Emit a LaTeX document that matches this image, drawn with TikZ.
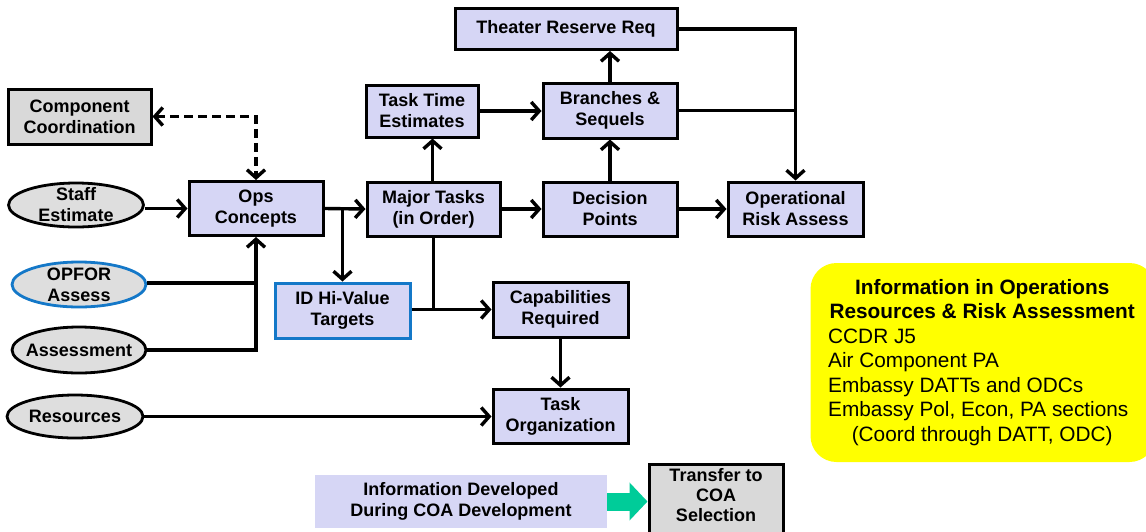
\documentclass[tikz,border=0pt]{standalone}
\usepackage{fontspec}
\setmainfont{Liberation Sans}
\usetikzlibrary{arrows.meta,shapes.geometric}

\definecolor{lav}{RGB}{214,214,245}
\definecolor{boxgray}{RGB}{217,217,217}
\definecolor{ovalgray}{RGB}{222,222,222}
\definecolor{edgeblue}{RGB}{20,120,200}
\definecolor{note}{RGB}{255,255,0}
\definecolor{flowgreen}{RGB}{0,204,153}

\tikzset{
  stepbox/.style={draw=black, line width=3pt, fill=lav, align=center,
    font=\fontsize{18}{21}\selectfont\bfseries, inner sep=2pt},
  graybox/.style={stepbox, fill=boxgray},
  oval/.style={ellipse, draw=black, line width=2.8pt, fill=ovalgray, inner sep=0pt},
  ovaltext/.style={align=center, font=\fontsize{18}{21}\selectfont\bfseries, inner sep=0pt},
  flow/.style={line width=3.4pt, -{Straight Barb[length=8pt,width=18pt]}},
  plain/.style={line width=3.4pt},
}

\begin{document}
\begin{tikzpicture}[x=1pt,y=-1pt]
\useasboundingbox (0,0) rectangle (1146,531);

% information note on the right
\node[draw=none, fill=note, rounded corners=26pt, minimum width=345pt, minimum height=199pt] (notebox) at (983,362.5) {};
\node[anchor=north west, inner sep=0pt, font=\fontsize{20.8}{24.5}\selectfont] (notetext) at (828,279) {%
  \begin{minipage}{308pt}\centering\bfseries
  Information in Operations\\
  Resources \& Risk Assessment\par
  \raggedright\mdseries
  CCDR J5\\
  Air Component PA\\
  Embassy DATTs and ODCs\\
  Embassy Pol, Econ, PA sections\par
  \centering (Coord through DATT, ODC)\par
  \end{minipage}};

% process boxes
\node[stepbox, minimum width=222pt, minimum height=41pt] (thr) at (566,29) {Theater Reserve Req};
\node[graybox, minimum width=143pt, minimum height=55pt] (cc) at (79.5,116.5) {Component\\Coordination};
\node[stepbox, minimum width=112pt, minimum height=52pt] (tte) at (422,111) {Task Time\\Estimates};
\node[stepbox, minimum width=134pt, minimum height=55pt] (bs) at (610,110.5) {Branches \&\\Sequels};
\node[stepbox, minimum width=134pt, minimum height=54pt] (oc) at (256,208.5) {Ops\\Concepts};
\node[stepbox, minimum width=133pt, minimum height=54pt] (mt) at (433.5,209) {Major Tasks\\(in Order)};
\node[stepbox, minimum width=134pt, minimum height=54pt] (dp) at (610,209) {Decision\\Points};
\node[stepbox, minimum width=135pt, minimum height=54pt] (ora) at (795.5,209) {Operational\\Risk Assess};
\node[stepbox, draw=edgeblue, minimum width=135pt, minimum height=55pt] (idh) at (342.5,310.5) {ID Hi-Value\\Targets};
\node[stepbox, minimum width=135pt, minimum height=55pt] (cap) at (560.5,309.5) {Capabilities\\Required};
\node[stepbox, minimum width=135pt, minimum height=54pt] (tor) at (560.5,416) {Task\\Organization};

% inputs
\node[oval, minimum width=135pt, minimum height=44pt, label={[ovaltext]center:Staff\\Estimate}] (se) at (76,205) {};
\node[oval, draw=edgeblue, minimum width=134pt, minimum height=45pt, label={[ovaltext]center:OPFOR\\Assess}] (opf) at (79,284.5) {};
\node[oval, minimum width=134pt, minimum height=46pt, label={[ovaltext]center:Assessment}] (asm) at (79,350) {};
\node[oval, minimum width=136pt, minimum height=43pt, label={[ovaltext]center:Resources}] (res) at (75,416.5) {};

% legend
\node[fill=lav, draw=none, minimum width=292pt, minimum height=53pt, align=center,
  font=\fontsize{18}{21}\selectfont\bfseries] (idev) at (461,501.5) {Information Developed\\During COA Development};
\node[graybox, minimum width=134pt, minimum height=80pt, anchor=north] (tcoa) at (716,463) {};
\node[font=\fontsize{18}{20}\selectfont\bfseries, align=center, inner sep=0pt, anchor=north] (tcoatext) at (716,468) {Transfer to\\COA\\Selection};
\draw[line width=18pt, -{Triangle[length=18pt,width=37pt]}, flowgreen] (idev.east) -- (tcoa.west |- idev.east);

% connectors
\draw[flow] (se.east |- oc.west) -- (oc.west);
\draw[line width=3.4pt, dash pattern=on 9pt off 5pt,
  {Straight Barb[length=8pt,width=18pt]}-{Straight Barb[length=8pt,width=18pt]}]
  (cc.east) -| (oc.north);
\draw[plain] (opf.east |- 0,283) -- (oc.south |- 0,283);
\draw[flow] (asm.east) -| (oc.south);
\draw[flow] (oc.east) -- (mt.west);
\draw[flow] (oc.east -| idh.north) -- (idh.north);
\draw[flow] (mt.north -| 432.5,0) -- (tte.south -| 432.5,0);
\draw[flow] (tte.east) -- (tte.east -| bs.west);
\draw[flow] (mt.east) -- (dp.west);
\draw[flow] (dp.north) -- (bs.south);
\draw[flow] (bs.north) -- (bs.north |- thr.south);
\draw[flow] (thr.east) -| (ora.north);
\draw[plain] (bs.east) -- (bs.east -| ora.north);
\draw[flow] (dp.east) -- (ora.west);
\draw[plain] (mt.south) -- (mt.south |- cap.west);
\draw[flow] (idh.east |- cap.west) -- (cap.west);
\draw[flow] (cap.south) -- (tor.north);
\draw[flow] (res.east) -- (res.east -| tor.west);
\end{tikzpicture}
\end{document}
